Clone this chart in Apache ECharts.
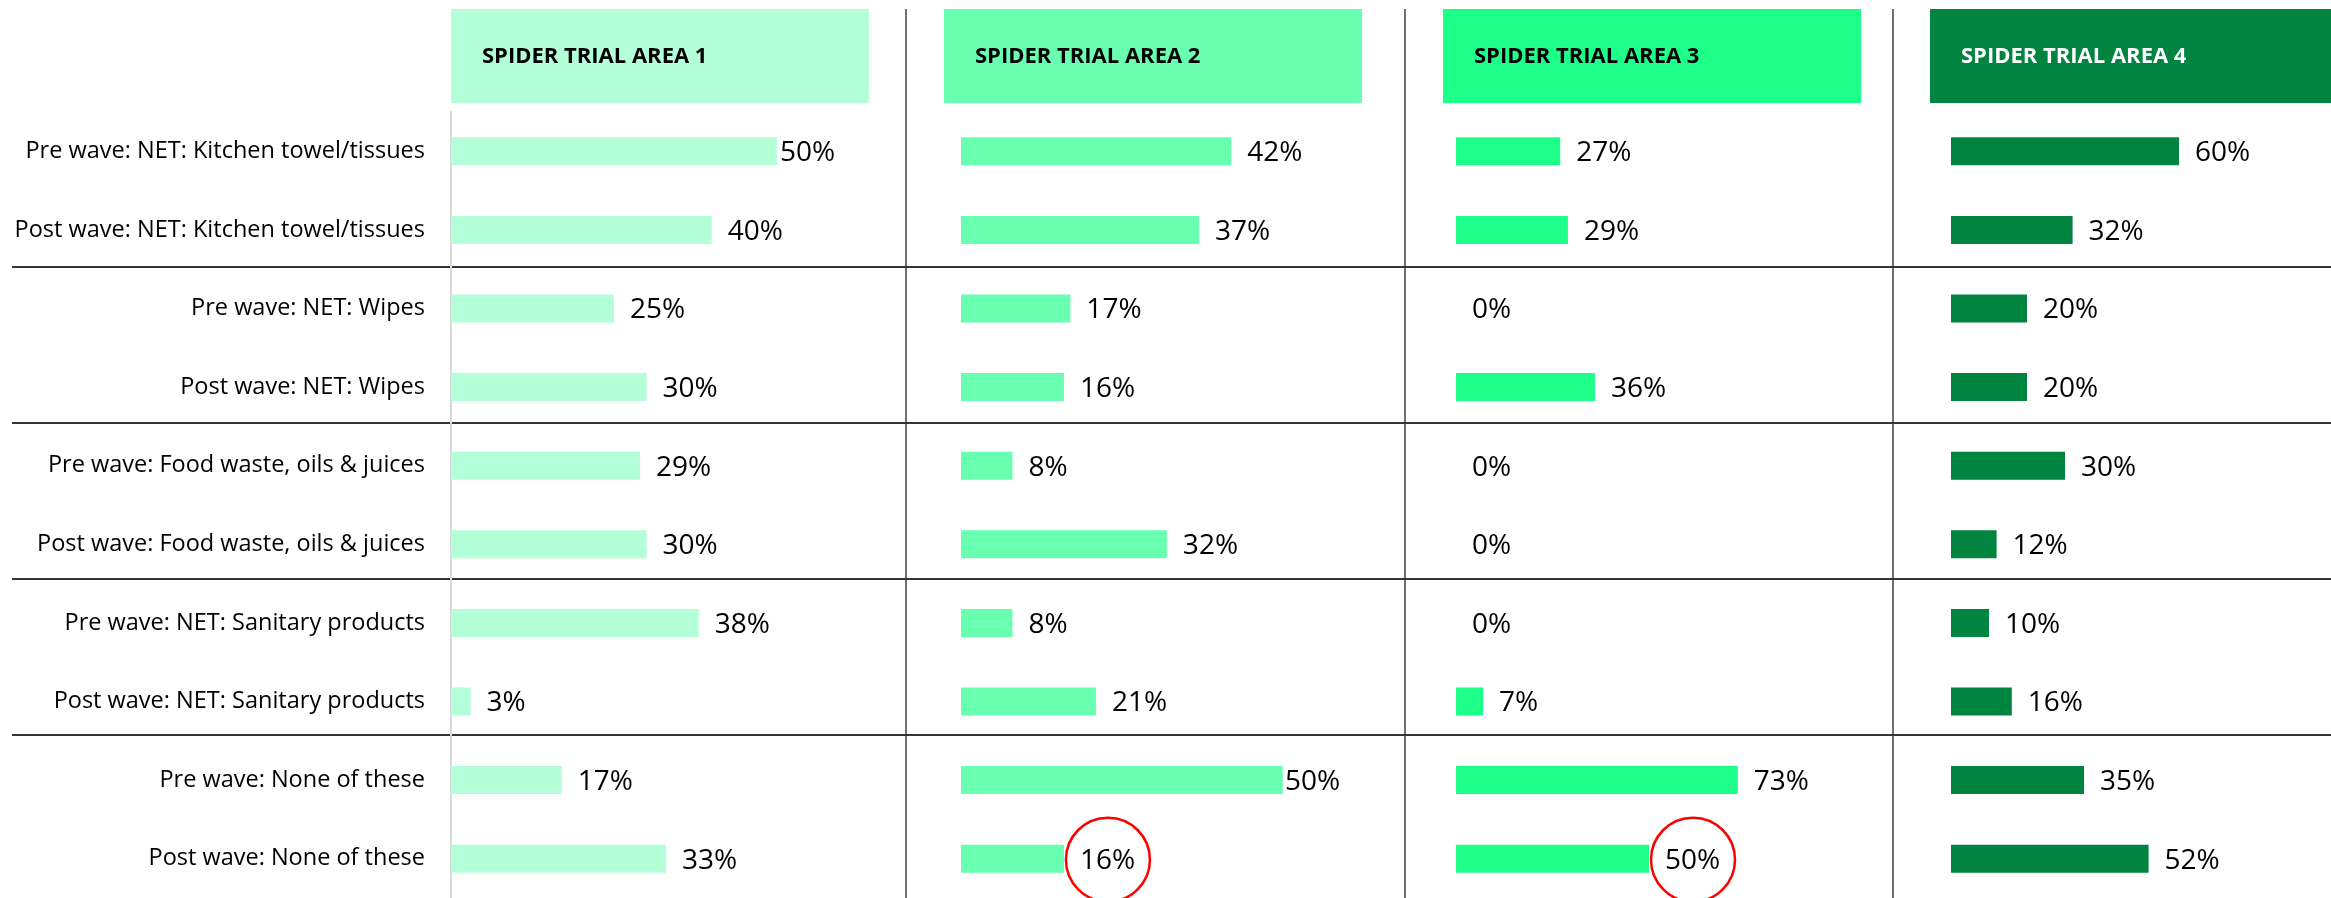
<!DOCTYPE html>
<html>
<head>
<meta charset="utf-8">
<title>Spider trial areas</title>
<script src="https://cdn.jsdelivr.net/npm/echarts@6.0.0/dist/echarts.min.js"></script>
<style>
  html, body { margin: 0; padding: 0; background: #fff; }
  #chart { width: 2331px; height: 898px; }
</style>
</head>
<body>
<div id="chart"></div>
<script>
// data
const categories = [
  'Pre wave: NET: Kitchen towel/tissues',
  'Post wave: NET: Kitchen towel/tissues',
  'Pre wave: NET: Wipes',
  'Post wave: NET: Wipes',
  'Pre wave: Food waste, oils & juices',
  'Post wave: Food waste, oils & juices',
  'Pre wave: NET: Sanitary products',
  'Post wave: NET: Sanitary products',
  'Pre wave: None of these',
  'Post wave: None of these'
]
const areaNames = ['SPIDER TRIAL AREA 1', 'SPIDER TRIAL AREA 2', 'SPIDER TRIAL AREA 3', 'SPIDER TRIAL AREA 4']
const area1 = [50, 40, 25, 30, 29, 30, 38, 3, 17, 33]
const area2 = [42, 37, 17, 16, 8, 32, 8, 21, 50, 16]
const area3 = [27, 29, 0, 36, 0, 0, 0, 7, 73, 50]
const area4 = [60, 32, 20, 20, 30, 12, 10, 16, 35, 52]
const areaValues = [area1, area2, area3, area4]
const axisMax = [60, 60, 100, 100]
// circled labels: [panel, row]
const circled = [[1, 9], [2, 9]]

// layout / style
const colors = ['#b3ffd7', '#69ffb1', '#1eff8a', '#00843f']
const headerText = ['#000', '#000', '#000', '#fff']
const plotLeft = [451, 961, 1456, 1951]
const plotWidth = [391, 386, 386, 387]
const headerLeft = [451, 944, 1443, 1930]
const dividers = [906, 1405, 1893]
const TOP = 112, HEIGHT = 786
const LABEL_GAP = 16, LABEL_BOX = 62, LABEL_HALF = 28

const font = '"Open Sans", "Noto Sans", sans-serif'
const chart = echarts.init(document.getElementById('chart'))

// background grid: its category axis places the group separators
const grids = [{ left: 12, right: 0, top: 111, height: 780 }]
const xAxes = [{ type: 'value', gridIndex: 0, show: false }]
const yAxes = [{ type: 'category', gridIndex: 0, inverse: true, data: categories, show: false }]
const series = []

areaValues.forEach((vals, p) => {
  const g = p + 1
  grids.push({ left: plotLeft[p], top: TOP, width: plotWidth[p], height: HEIGHT })
  xAxes.push({ type: 'value', gridIndex: g, min: 0, max: axisMax[p], show: false })
  yAxes.push({
    type: 'category', gridIndex: g, inverse: true, data: categories,
    axisTick: { show: false },
    axisLine: { show: p === 0, lineStyle: { color: '#d9d9d9', width: 2 } },
    axisLabel: {
      show: p === 0, margin: 26, color: '#000',
      fontFamily: font, fontSize: 23.5, padding: [5, 0, 0, 0]
    },
    splitLine: { show: false }
  })
  const pxPer = plotWidth[p] / axisMax[p]
  series.push({
    type: 'bar', xAxisIndex: g, yAxisIndex: g,
    barWidth: 28,
    itemStyle: { color: colors[p] },
    label: {
      show: true, position: 'right', formatter: '{c}%', offset: [0, 2],
      color: '#000', fontFamily: font, fontSize: 28
    },
    data: vals.map(v => ({
      value: v,
      label: { distance: Math.max(0, Math.min(LABEL_GAP, (axisMax[p] - v) * pxPer - LABEL_BOX)) }
    }))
  })
})

const graphic = []
headerLeft.forEach((x, p) => {
  graphic.push({
    type: 'group', left: x, top: 9,
    children: [
      { type: 'rect', shape: { x: 0, y: 0, width: 418, height: 94 }, style: { fill: colors[p] } },
      {
        type: 'text', x: 31, y: 48,
        style: {
          text: areaNames[p], fill: headerText[p],
          font: 'bold 22px ' + font, textVerticalAlign: 'middle'
        }
      }
    ]
  })
})
dividers.forEach(x => {
  graphic.push({
    type: 'line', shape: { x1: x, y1: 9, x2: x, y2: 898 },
    style: { stroke: '#404040', lineWidth: 1.5 }
  })
})

chart.setOption({
  backgroundColor: '#fff',
  animation: false,
  grid: grids,
  xAxis: xAxes,
  yAxis: yAxes,
  series,
  graphic
})

// separators between the pre/post pairs
const seps = [2, 4, 6, 8].map(k => {
  const a = chart.convertToPixel({ yAxisIndex: 0 }, categories[k - 1])
  const b = chart.convertToPixel({ yAxisIndex: 0 }, categories[k])
  const y = Math.round((a + b) / 2)
  return {
    type: 'line', shape: { x1: 12, y1: y, x2: 2331, y2: y },
    style: { stroke: '#333', lineWidth: 2 }
  }
})

// red circles around the flagged labels
const rings = circled.map(([p, row]) => {
  const v = areaValues[p][row]
  const [x, y] = chart.convertToPixel({ gridIndex: p + 1 }, [v, categories[row]])
  const pxPer = plotWidth[p] / axisMax[p]
  const d = Math.max(0, Math.min(LABEL_GAP, (axisMax[p] - v) * pxPer - LABEL_BOX))
  return {
    type: 'circle', shape: { cx: x + d + LABEL_HALF, cy: y + 1, r: 42 },
    style: { fill: 'none', stroke: '#ff0000', lineWidth: 2.5 }, z: 10
  }
})
chart.setOption({ graphic: graphic.concat(seps, rings) })
</script>
</body>
</html>
